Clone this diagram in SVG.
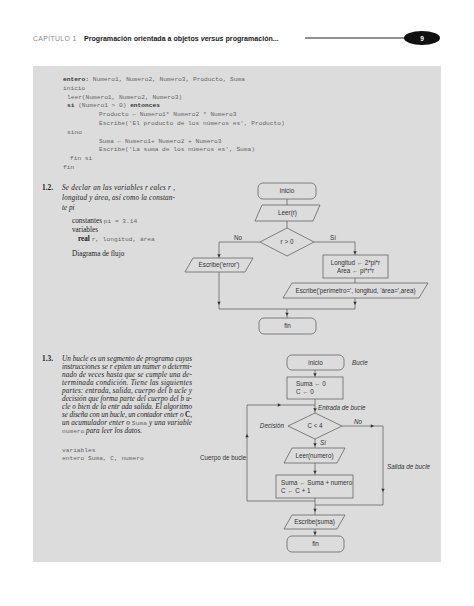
<svg xmlns="http://www.w3.org/2000/svg" width="474" height="606" viewBox="0 0 474 606">
<style>
.bg{fill:#dcdcdd}
.box{fill:none;stroke:#666;stroke-width:0.8}
.ln{fill:none;stroke:#666;stroke-width:0.8}
.ah{fill:#333}
.ft{font-family:"Liberation Sans",Arial,sans-serif;font-size:6.3px;fill:#333;text-anchor:middle}
.fl{font-family:"Liberation Sans",Arial,sans-serif;font-size:6.3px;fill:#333}
.lb{font-family:"Liberation Sans",Arial,sans-serif;font-size:6.3px;fill:#333;font-style:italic}
.code{font-family:"Liberation Mono","Courier New",monospace;font-size:6.2px;fill:#666}
.cb{font-weight:bold;fill:#333}
.ser{font-family:"Liberation Serif","Times New Roman",serif;font-size:7.2px;fill:#222}
.it{font-style:italic}
.num{font-family:"Liberation Serif","Times New Roman",serif;font-size:7.4px;font-weight:bold;fill:#222}
</style>
<defs>
<path id="ad" d="M-1.7,-3.2 L1.7,-3.2 L0,0 Z"/>
<path id="ar" d="M-3.2,-1.7 L-3.2,1.7 L0,0 Z"/>
<path id="au" d="M-1.7,3.2 L1.7,3.2 L0,0 Z"/>
</defs>

<!-- header -->
<g id="header">
<text x="33" y="41" font-family="Liberation Sans,Arial,sans-serif" font-size="6.8" fill="#888" letter-spacing="0.4">CAPÍTULO 1</text>
<text x="84" y="41" font-family="Liberation Sans,Arial,sans-serif" font-size="7.1" font-weight="bold" fill="#1a1a1a">Programación orientada a objetos <tspan font-style="italic">versus</tspan> programación...</text>
<line x1="305" y1="38" x2="410" y2="38" stroke="#222" stroke-width="1.2"/>
<ellipse cx="422" cy="38" rx="18" ry="7" fill="#111"/>
<text x="422" y="40.5" font-family="Liberation Sans,Arial,sans-serif" font-size="6.5" font-weight="bold" fill="#fff" text-anchor="middle">9</text>
</g>

<rect class="bg" x="33" y="66" width="408" height="496"/>

<!-- code block -->
<g id="code1" class="code">
<text x="63" y="81"><tspan class="cb">entero:</tspan>  Numero1, Numero2, Numero3, Producto, Suma</text>
<text x="63" y="89.8">inicio</text>
<text x="67" y="98.6">leer(Numero1, Numero2, Numero3)</text>
<text x="67" y="107.4"><tspan class="cb">si</tspan> (Numero1 &gt; 0) <tspan class="cb">entonces</tspan></text>
<text x="99" y="116.2">Producto ← Numero1* Numero2 * Numero3</text>
<text x="99" y="125">Escribe('El producto de los números es', Producto)</text>
<text x="67" y="133.8">sino</text>
<text x="99" y="142.6">Suma ← Numero1+ Numero2 + Numero3</text>
<text x="99" y="151.4">Escribe('La suma de los números es', Suma)</text>
<text x="70" y="160.2">fin si</text>
<text x="63" y="169">fin</text>
</g>

<!-- section 1.2 text -->
<g id="sec12">
<text class="num" x="42" y="190">1.2.</text>
<text class="ser it" x="62" y="190" textLength="113" lengthAdjust="spacing">Se declar an las variables r   eales r ,</text>
<text class="ser it" x="62" y="200" textLength="113" lengthAdjust="spacing">longitud y área, así como la constan-</text>
<text class="ser it" x="62" y="210">te pi</text>
<text class="ser" x="72" y="223">constantes <tspan class="code">pi = 3.14</tspan></text>
<text class="ser" x="72" y="232">variables</text>
<text class="ser" x="78" y="241" font-weight="bold">real <tspan class="code" font-weight="normal">r, longitud, área</tspan></text>
<text class="ser" x="72" y="256">Diagrama de flujo</text>
</g>

<!-- flowchart 1 nodes -->
<g id="f1-inicio"><rect class="box" x="258" y="183" width="58" height="16" rx="5"/><text class="ft" x="287" y="193.3">inicio</text></g>
<g id="f1-leer"><polygon class="box" points="262,205 320,205 313,221 255,221"/><text class="ft" x="287.5" y="215.3">Leer(r)</text></g>
<g id="f1-dec"><polygon class="box" points="287,228 314,242 287,256 260,242"/><text class="ft" x="287" y="244.3">r &gt; 0</text></g>
<g id="f1-err"><polygon class="box" points="193,258 253,258 245,272 185,272"/><text class="ft" x="219" y="267.3">Escribe('error')</text></g>
<g id="f1-calc"><rect class="box" x="323" y="255" width="65" height="23"/><text class="ft" x="355.5" y="264.5">Longitud ← 2*pi*r</text><text class="ft" x="355.5" y="273">Area ← pi*r*r</text></g>
<g id="f1-out"><polygon class="box" points="292,283 428,283 419,298 283,298"/><text class="ft" x="355.5" y="292.8">Escribe('perimetro=', longitud, 'área=',area)</text></g>
<g id="f1-fin"><rect class="box" x="259" y="318" width="57" height="16" rx="5"/><text class="ft" x="287.5" y="328.3">fin</text></g>

<!-- flowchart 1 connectors -->
<g id="f1-conn">
<path class="ln" d="M287,199V205 M287,221V228 M260,242H219V258 M314,242H355V255 M355,278V283 M219,272V309 M355,298V309 M219,309H355 M287,309V318"/>
<use href="#ad" class="ah" x="219" y="257.5"/>
<use href="#ad" class="ah" x="355" y="254.5"/>
<use href="#ad" class="ah" x="219" y="305"/>
<use href="#ad" class="ah" x="355" y="305"/>
<use href="#ad" class="ah" x="287" y="316"/>
<text class="ft" x="238" y="239.5">No</text>
<text class="ft" x="333" y="239.5">Sí</text>
</g>

<!-- section 1.3 text -->
<g id="sec13">
<text class="num" x="42" y="360.5">1.3.</text>
<text class="ser it" x="62" y="360.5" textLength="130" lengthAdjust="spacing">Un bucle es un segmento de programa cuyas</text>
<text class="ser it" x="62" y="368.5" textLength="130" lengthAdjust="spacing">instrucciones se r epiten un númer o determi-</text>
<text class="ser it" x="62" y="376.5" textLength="130" lengthAdjust="spacing">nado de veces hasta que se cumple una de-</text>
<text class="ser it" x="62" y="384.5" textLength="130" lengthAdjust="spacing">terminada condición.   Tiene las siguientes</text>
<text class="ser it" x="62" y="392.5" textLength="130" lengthAdjust="spacing">partes:  entrada,  salida,  cuerpo del b ucle y</text>
<text class="ser it" x="62" y="400.5" textLength="130" lengthAdjust="spacing">decisión que forma parte del cuerpo del b  u-</text>
<text class="ser it" x="62" y="408.5" textLength="130" lengthAdjust="spacing">cle o bien de la entr ada salida. El algoritmo</text>
<text class="ser it" x="62" y="416.5" textLength="130" lengthAdjust="spacing">se diseña con un bucle, un contador enter o <tspan font-weight="bold" font-style="normal">C</tspan>,</text>
<text class="ser it" x="62" y="424.5" textLength="130" lengthAdjust="spacing">un acumulador enter o <tspan class="code" font-style="normal">Suma</tspan> y una variable</text>
<text class="ser it" x="62" y="432.5"><tspan class="code" font-style="normal">numero</tspan> para leer los datos.</text>
<text class="code" x="62" y="452">variables</text>
<text class="code" x="62" y="460">entero Suma, C, numero</text>
</g>

<!-- flowchart 2 nodes -->
<g id="f2-inicio"><rect class="box" x="287" y="355" width="57" height="15" rx="5"/><text class="ft" x="315.5" y="364.8">inicio</text></g>
<g id="f2-init"><rect class="box" x="287" y="377" width="56" height="22"/><text class="fl" x="296" y="386">Suma ← 0</text><text class="fl" x="296" y="394">C ← 0</text></g>
<g id="f2-dec"><polygon class="box" points="315,413 342,426 315,439 288,426"/><text class="ft" x="315" y="428.3">C &lt; 4</text></g>
<g id="f2-leer"><polygon class="box" points="292,448 345,448 337,463 284,463"/><text class="ft" x="314.5" y="457.8">Leer(numero)</text></g>
<g id="f2-acc"><rect class="box" x="276" y="475" width="77" height="23"/><text class="fl" x="281" y="484.5">Suma ← Suma + numero</text><text class="fl" x="281" y="492.5">C ← C + 1</text></g>
<g id="f2-out"><polygon class="box" points="292,515 345,515 337,529 284,529"/><text class="ft" x="314.5" y="524.3">Escribe(suma)</text></g>
<g id="f2-fin"><rect class="box" x="287" y="536" width="57" height="16" rx="5"/><text class="ft" x="315.5" y="546.3">fin</text></g>

<!-- flowchart 2 connectors -->
<g id="f2-conn">
<path class="ln" d="M315,370V377 M315,399V413 M247,405H315 M342,426H383V505H315 M315,439V448 M315,463V475 M315,498V515 M315,501H247V405 M315,529V536"/>
<use href="#ad" class="ah" x="315" y="376.5"/>
<use href="#ar" class="ah" x="281" y="405"/>
<use href="#ad" class="ah" x="315" y="411.5"/>
<use href="#ar" class="ah" x="374" y="426"/>
<use href="#ad" class="ah" x="315" y="446.5"/>
<use href="#au" class="ah" x="247" y="434"/>
<use href="#ad" class="ah" x="315" y="474"/>
<use href="#ad" class="ah" x="383" y="492"/>
<use href="#ad" class="ah" x="315" y="512"/>
<use href="#ad" class="ah" x="315" y="535"/>
<text class="lb" x="352" y="364.5">Bucle</text>
<text class="lb" x="318" y="409.5">Entrada de bucle</text>
<text class="lb" x="284" y="428.3" text-anchor="end">Decisión</text>
<text class="lb" x="354" y="423.5">No</text>
<text class="lb" x="320" y="444.5">Sí</text>
<text class="fl" x="200" y="460">Cuerpo de bucle</text>
<text class="lb" x="387" y="469">Salida de bucle</text>
</g>
</svg>
